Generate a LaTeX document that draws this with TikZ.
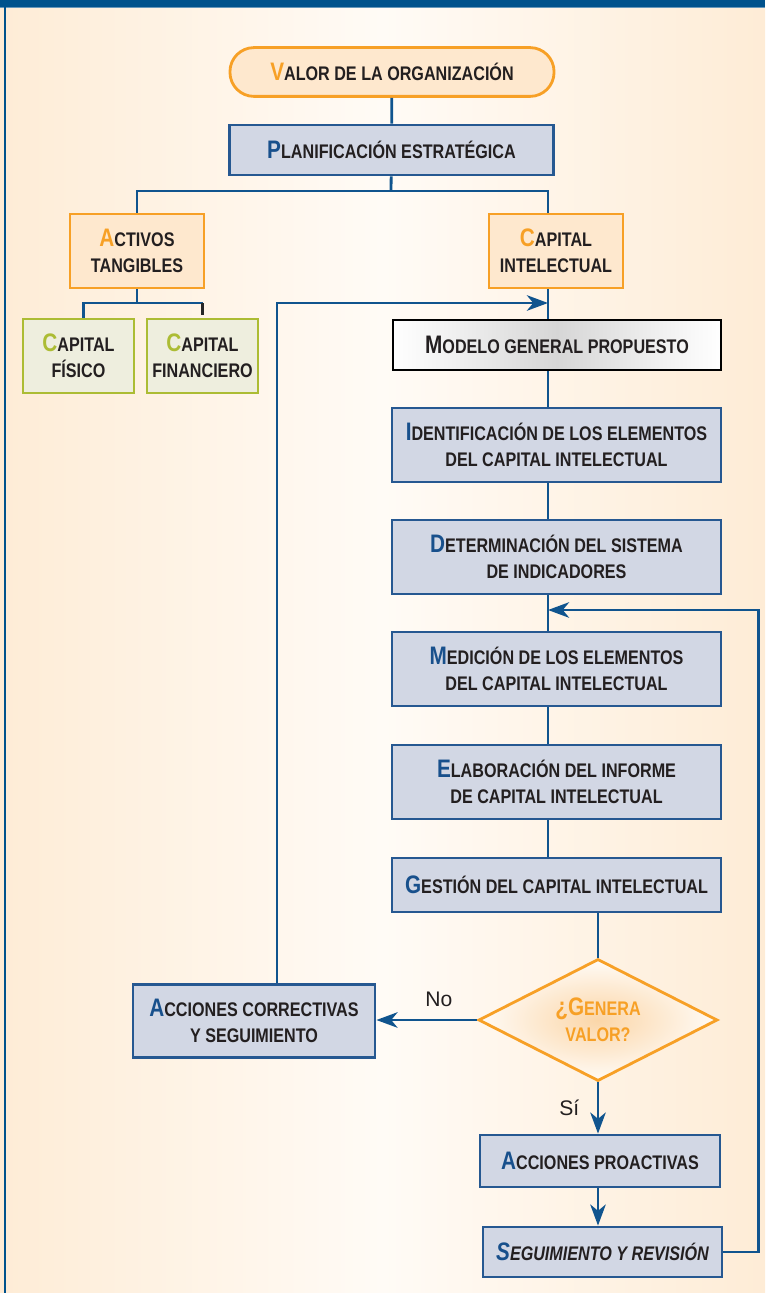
\documentclass[tikz,border=0pt]{standalone}
\usepackage{fontspec}
\setmainfont{Liberation Sans}[FakeStretch=0.82]
\newfontfamily\labelfont{Liberation Sans}
\usetikzlibrary{shapes.geometric,arrows.meta}
\definecolor{bandblue}{RGB}{0,82,140}
\definecolor{linkblue}{RGB}{16,84,142}
\definecolor{procfill}{RGB}{210,215,228}
\definecolor{procdraw}{RGB}{38,88,145}
\definecolor{initblue}{RGB}{24,80,140}
\definecolor{orng}{RGB}{247,160,38}
\definecolor{peach}{RGB}{254,232,206}
\definecolor{diamin}{RGB}{251,214,168}
\definecolor{olive}{RGB}{172,188,52}
\definecolor{olivefill}{RGB}{238,238,222}
\definecolor{bgside}{RGB}{254,236,214}
\definecolor{bgmid}{RGB}{255,251,246}
\definecolor{inkdark}{RGB}{35,31,32}
\newcommand{\ini}[2]{{\color{#1}\fontsize{18}{19}\selectfont #2}}
\tikzset{
        boxtext/.style={font=\fontsize{14}{18.5}\selectfont\bfseries, text=inkdark, align=center, inner sep=0pt},
        blueproc/.style={boxtext, rectangle, draw=procdraw, fill=procfill, line width=2pt, minimum width=8.22cm, minimum height=1.85cm},
        orangebox/.style={boxtext, rectangle, draw=orng, fill=peach, line width=2pt, minimum width=3.35cm, minimum height=1.85cm},
        greenbox/.style={boxtext, rectangle, draw=olive, fill=olivefill, line width=2pt, minimum width=2.775cm, minimum height=1.85cm},
        roundbox/.style={boxtext, rectangle, rounded corners=0.6cm, draw=orng, fill=peach, line width=2pt, minimum width=8.1cm, minimum height=1.22cm},
        modelbox/.style={boxtext, rectangle, draw=black, line width=2pt, left color=white, right color=white, middle color=black!16, minimum width=8.2cm, minimum height=1.25cm},
        decision/.style={boxtext, text=orng, diamond, aspect=2, draw=orng, line width=2pt, inner color=diamin, outer color=bgmid, minimum width=5.975cm, minimum height=3.05cm},
        link/.style={draw=linkblue, line width=2pt},
        arrowlink/.style={link, -{Stealth[length=15pt, width=11pt, inset=4.5pt]}},
        branchlabel/.style={font=\labelfont\fontsize{15}{18}\selectfont, text=inkdark}
          }
\begin{document}
\begin{tikzpicture}[x=0.025cm, y=-0.025cm]
        \useasboundingbox (0,0) rectangle (765,1293);
        % background and frame
        \fill[left color=bgside, right color=bgside, middle color=bgmid] (0,0) rectangle (765,1293);
        \fill[bandblue] (0,0) rectangle (765,7);
        \draw[bandblue!60, line width=0.6pt] (0,7.5) -- (765,7.5);
        \draw[bandblue, line width=1.4pt] (5,7) -- (5,1293);
        \coordinate (spine) at (548,0);
        \coordinate (upA) at (277,0);

        \node[roundbox] (valor) at (392,72) {\ini{orng}{V}ALOR DE LA ORGANIZACIÓN};
        \node[blueproc, minimum width=8.08cm, minimum height=1.25cm] (plan) at (391.5,150) {\ini{initblue}{P}LANIFICACIÓN ESTRATÉGICA};
        \node[orangebox] (activos) at (137,251) {\ini{orng}{A}CTIVOS\\TANGIBLES};
        \node[orangebox] (capint) at (556,251) {\ini{orng}{C}APITAL\\INTELECTUAL};
        \node[greenbox] (fisico) at (78.5,356) {\ini{olive}{C}APITAL\\FÍSICO};
        \node[greenbox] (financ) at (202.5,356) {\ini{olive}{C}APITAL\\FINANCIERO};
        \node[modelbox] (modelo) at (557,345) {\ini{inkdark}{M}ODELO GENERAL PROPUESTO};
        \node[blueproc] (ident) at (556.5,445) {\ini{initblue}{I}DENTIFICACIÓN DE LOS ELEMENTOS\\DEL CAPITAL INTELECTUAL};
        \node[blueproc] (determ) at (556.5,557) {\ini{initblue}{D}ETERMINACIÓN DEL SISTEMA\\DE INDICADORES};
        \node[blueproc] (medic) at (556.5,669) {\ini{initblue}{M}EDICIÓN DE LOS ELEMENTOS\\DEL CAPITAL INTELECTUAL};
        \node[blueproc] (elab) at (556.5,782) {\ini{initblue}{E}LABORACIÓN DEL INFORME\\DE CAPITAL INTELECTUAL};
        \node[blueproc, minimum height=1.35cm] (gestion) at (556.5,885) {\ini{initblue}{G}ESTIÓN DEL CAPITAL INTELECTUAL};
        \node[decision] (genera) at (598,1020) {\ini{orng}{¿G}ENERA\\VALOR?};
        \node[blueproc, minimum width=6.05cm, minimum height=1.825cm] (correct) at (254,1021) {\ini{initblue}{A}CCIONES CORRECTIVAS\\Y SEGUIMIENTO};
        \node[blueproc, minimum width=6cm, minimum height=1.3cm] (proact) at (600,1161) {\ini{initblue}{A}CCIONES PROACTIVAS};
        \node[blueproc, minimum width=5.975cm, minimum height=1.25cm] (segui) at (602.5,1252) {\itshape\ini{initblue}{S}EGUIMIENTO Y REVISIÓN};

        % top branches
        \coordinate (split) at (391,191);
        \coordinate (tjoin) at (137,303);
        \coordinate (tfin) at (financ.north |- tjoin);
        \draw[link] (valor) -- (plan);
        \draw[link] (plan) -- (split);
        \draw[link] (split) -| (activos.north);
        \draw[link] (split) -| (capint.north -| spine);
        \draw[link] (activos) -- (tjoin);
        \draw[link] (tjoin) -| ([xshift=3.5pt]fisico.north);
        \draw[link] (tjoin) -- (tfin);
        \draw[line width=2pt, black!85] (tfin) -- ([yshift=2pt]financ.north);

        % main spine
        \draw[link] (capint.south -| spine) -- (modelo.north -| spine);
        \foreach \a/\b in {modelo/ident, ident/determ, determ/medic, medic/elab, elab/gestion}
          \draw[link] (\a.south -| spine) -- (\b.north -| spine);
        \draw[link] (gestion.south -| genera.north) -- (genera.north);

        % decision
        \draw[arrowlink] (genera.west) -- (correct.east |- genera.west) node[branchlabel, pos=0.38, above=5pt] {No};
        \draw[arrowlink] (genera.south) -- (proact.north -| genera.south) node[branchlabel, midway, left=9pt] {Sí};
        \draw[arrowlink] (proact.south -| genera.south) -- (segui.north -| genera.south);

        % feedback loops
        \coordinate (inA) at (548,303);
        \coordinate (inB) at (548,610);
        \draw[arrowlink] (correct.north -| upA) |- (inA);
        \draw[arrowlink] (segui.east) -- ++(35,0) |- (inB);
\end{tikzpicture}
\end{document}
